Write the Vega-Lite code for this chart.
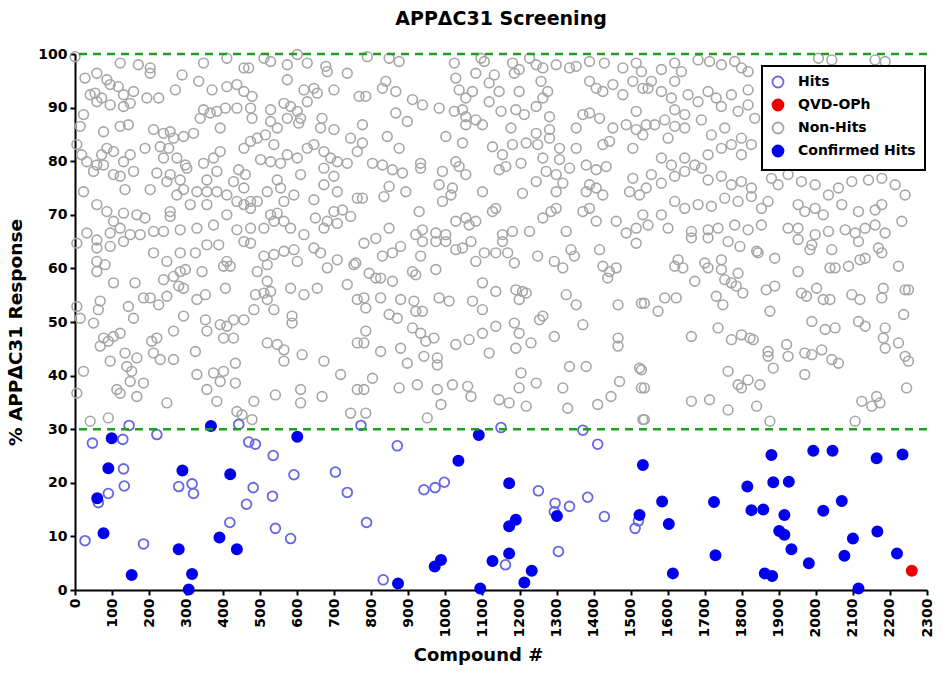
{
"$schema": "https://vega.github.io/schema/vega-lite/v6.json",
"width": 852, "height": 536,
"autosize": {"type": "none"},
"padding": {"left": 75, "top": 54, "right": 23, "bottom": 102},
"background": "white",
"title": {"text": "APPΔC31 Screening", "font": "DejaVu Sans", "fontSize": 19, "fontWeight": "bold", "color": "black", "anchor": "middle", "frame": "group", "offset": 17},
"config": {
  "view": {"stroke": null},
  "axis": {"domainColor": "black", "domainWidth": 2, "tickColor": "black", "tickWidth": 2, "tickSize": 5, "labelFont": "DejaVu Sans", "labelFontWeight": "bold", "labelFontSize": 14, "labelColor": "black", "grid": false, "titleFont": "DejaVu Sans", "titleFontWeight": "bold", "titleColor": "black"},
  "legend": {"strokeColor": "black", "strokeWidth": 2, "fillColor": "white"}
},
"datasets": {
  "nonhits": [
{"x":0,"y":99.5},{"x":122,"y":98.3},{"x":171,"y":98.0},{"x":203,"y":97.4},{"x":203,"y":96.4},{"x":289,"y":96.1},{"x":347,"y":98.3},{"x":410,"y":99.2},{"x":456,"y":97.4},{"x":469,"y":97.4},{"x":510,"y":99.2},{"x":528,"y":98.6},{"x":573,"y":98.0},{"x":600,"y":99.9},{"x":627,"y":98.3},{"x":677,"y":97.7},{"x":681,"y":96.7},{"x":735,"y":96.4},{"x":27,"y":95.5},{"x":59,"y":96.4},{"x":86,"y":95.2},{"x":95,"y":94.3},{"x":117,"y":93.9},{"x":41,"y":92.4},{"x":54,"y":92.7},{"x":72,"y":91.8},{"x":131,"y":92.4},{"x":158,"y":93.0},{"x":194,"y":91.8},{"x":226,"y":91.8},{"x":271,"y":93.3},{"x":334,"y":94.9},{"x":370,"y":93.3},{"x":410,"y":93.9},{"x":437,"y":94.3},{"x":456,"y":93.0},{"x":478,"y":92.1},{"x":573,"y":95.2},{"x":618,"y":93.3},{"x":645,"y":93.6},{"x":654,"y":92.7},{"x":699,"y":93.3},{"x":767,"y":92.1},{"x":23,"y":88.7},{"x":59,"y":91.1},{"x":95,"y":90.5},{"x":131,"y":90.2},{"x":149,"y":90.8},{"x":347,"y":89.6},{"x":365,"y":89.0},{"x":383,"y":89.3},{"x":406,"y":89.9},{"x":338,"y":88.0},{"x":437,"y":89.9},{"x":474,"y":89.9},{"x":478,"y":88.0},{"x":528,"y":89.6},{"x":564,"y":90.8},{"x":582,"y":90.2},{"x":600,"y":89.3},{"x":627,"y":91.1},{"x":609,"y":88.0},{"x":573,"y":88.0},{"x":667,"y":88.0},{"x":528,"y":87.4},{"x":546,"y":86.2},{"x":604,"y":87.1},{"x":663,"y":86.2},{"x":699,"y":85.9},{"x":14,"y":86.5},{"x":122,"y":86.5},{"x":144,"y":86.8},{"x":77,"y":85.5},{"x":212,"y":85.9},{"x":239,"y":85.2},{"x":257,"y":85.5},{"x":266,"y":84.3},{"x":293,"y":84.6},{"x":320,"y":85.2},{"x":392,"y":86.2},{"x":514,"y":84.9},{"x":744,"y":84.3},{"x":492,"y":84.3},{"x":474,"y":83.7},{"x":537,"y":83.1},{"x":456,"y":82.4},{"x":392,"y":81.8},{"x":5,"y":83.1},{"x":18,"y":81.2},{"x":86,"y":82.4},{"x":104,"y":81.8},{"x":72,"y":81.2},{"x":149,"y":81.2},{"x":131,"y":79.9},{"x":189,"y":82.4},{"x":230,"y":82.7},{"x":253,"y":82.4},{"x":275,"y":80.6},{"x":298,"y":79.3},{"x":374,"y":80.6},{"x":347,"y":79.6},{"x":239,"y":80.6},{"x":32,"y":79.9},{"x":59,"y":79.3},{"x":77,"y":79.3},{"x":501,"y":80.3},{"x":528,"y":79.9},{"x":555,"y":79.6},{"x":573,"y":81.2},{"x":600,"y":80.6},{"x":627,"y":82.4},{"x":645,"y":83.1},{"x":672,"y":81.8},{"x":690,"y":80.6},{"x":708,"y":79.9},{"x":735,"y":79.6},{"x":672,"y":78.7},{"x":762,"y":81.8},{"x":50,"y":78.1},{"x":104,"y":77.5},{"x":122,"y":77.2},{"x":158,"y":78.1},{"x":221,"y":77.8},{"x":257,"y":77.5},{"x":302,"y":78.7},{"x":284,"y":76.5},{"x":356,"y":76.5},{"x":383,"y":78.1},{"x":442,"y":78.4},{"x":460,"y":77.5},{"x":428,"y":76.2},{"x":456,"y":75.0},{"x":383,"y":74.3},{"x":356,"y":74.3},{"x":329,"y":74.3},{"x":293,"y":74.7},{"x":275,"y":73.7},{"x":203,"y":74.7},{"x":248,"y":76.2},{"x":135,"y":74.7},{"x":23,"y":74.3},{"x":546,"y":76.5},{"x":555,"y":75.0},{"x":519,"y":74.3},{"x":474,"y":72.5},{"x":410,"y":73.7},{"x":437,"y":72.5},{"x":492,"y":72.5},{"x":591,"y":73.7},{"x":564,"y":72.5},{"x":672,"y":75.6},{"x":708,"y":74.3},{"x":645,"y":72.8},{"x":762,"y":73.1},{"x":699,"y":77.2},{"x":609,"y":77.5},{"x":59,"y":71.9},{"x":86,"y":70.6},{"x":131,"y":70.3},{"x":167,"y":70.0},{"x":189,"y":69.4},{"x":104,"y":68.8},{"x":122,"y":67.5},{"x":257,"y":70.6},{"x":257,"y":69.7},{"x":311,"y":71.9},{"x":356,"y":71.9},{"x":410,"y":70.0},{"x":456,"y":71.9},{"x":474,"y":71.2},{"x":528,"y":70.0},{"x":546,"y":70.3},{"x":564,"y":68.8},{"x":537,"y":68.8},{"x":582,"y":67.5},{"x":510,"y":67.5},{"x":474,"y":67.5},{"x":437,"y":67.2},{"x":374,"y":68.1},{"x":329,"y":67.5},{"x":284,"y":67.2},{"x":239,"y":66.9},{"x":212,"y":66.9},{"x":176,"y":66.3},{"x":149,"y":66.3},{"x":95,"y":66.6},{"x":32,"y":66.6},{"x":59,"y":65.3},{"x":649,"y":69.4},{"x":681,"y":68.8},{"x":699,"y":70.6},{"x":722,"y":70.9},{"x":744,"y":69.7},{"x":672,"y":67.5},{"x":708,"y":68.4},{"x":618,"y":66.3},
{"x":789,"y":99.5},{"x":848,"y":99.2},{"x":875,"y":98.6},{"x":1024,"y":98.3},{"x":1096,"y":99.2},{"x":1105,"y":98.6},{"x":1181,"y":98.3},{"x":1199,"y":97.1},{"x":1227,"y":99.2},{"x":1245,"y":98.0},{"x":1263,"y":97.4},{"x":1299,"y":98.0},{"x":1335,"y":97.4},{"x":1353,"y":97.7},{"x":1389,"y":98.6},{"x":1429,"y":98.3},{"x":1479,"y":97.4},{"x":1515,"y":98.3},{"x":1529,"y":96.7},{"x":1028,"y":95.5},{"x":1082,"y":96.4},{"x":1132,"y":96.1},{"x":1186,"y":96.4},{"x":839,"y":94.9},{"x":830,"y":93.6},{"x":866,"y":93.0},{"x":911,"y":91.5},{"x":938,"y":90.5},{"x":785,"y":92.1},{"x":1037,"y":93.3},{"x":1073,"y":93.0},{"x":1055,"y":91.8},{"x":1118,"y":94.6},{"x":1145,"y":93.0},{"x":1199,"y":93.0},{"x":1258,"y":94.9},{"x":1276,"y":93.0},{"x":1263,"y":91.8},{"x":1389,"y":94.9},{"x":1407,"y":93.6},{"x":1425,"y":93.0},{"x":1452,"y":94.3},{"x":1479,"y":92.4},{"x":1506,"y":94.9},{"x":1533,"y":93.6},{"x":866,"y":89.0},{"x":897,"y":87.4},{"x":983,"y":89.9},{"x":1024,"y":89.3},{"x":1046,"y":89.6},{"x":1055,"y":88.3},{"x":1082,"y":87.7},{"x":1100,"y":86.8},{"x":1055,"y":86.8},{"x":1118,"y":91.1},{"x":1150,"y":89.3},{"x":1190,"y":89.6},{"x":1213,"y":88.7},{"x":1245,"y":90.2},{"x":1281,"y":88.3},{"x":1371,"y":88.7},{"x":1389,"y":89.0},{"x":1416,"y":88.0},{"x":1353,"y":86.2},{"x":1452,"y":86.2},{"x":1488,"y":86.8},{"x":1515,"y":89.3},{"x":1515,"y":85.9},{"x":1533,"y":84.9},{"x":776,"y":86.8},{"x":1177,"y":86.2},{"x":1245,"y":85.2},{"x":1281,"y":85.9},{"x":843,"y":84.6},{"x":875,"y":82.4},{"x":776,"y":83.4},{"x":1001,"y":84.6},{"x":1046,"y":83.4},{"x":1127,"y":82.7},{"x":1154,"y":81.2},{"x":1181,"y":83.1},{"x":1218,"y":83.4},{"x":1249,"y":83.1},{"x":1281,"y":84.3},{"x":1308,"y":82.4},{"x":1353,"y":82.4},{"x":1425,"y":83.1},{"x":1443,"y":83.7},{"x":1506,"y":82.4},{"x":803,"y":79.6},{"x":830,"y":79.3},{"x":857,"y":78.4},{"x":884,"y":77.8},{"x":933,"y":79.6},{"x":933,"y":78.7},{"x":1028,"y":79.9},{"x":1037,"y":79.0},{"x":992,"y":78.1},{"x":1145,"y":78.4},{"x":1163,"y":79.0},{"x":1204,"y":79.6},{"x":1263,"y":80.6},{"x":1308,"y":80.3},{"x":1335,"y":78.7},{"x":1380,"y":79.3},{"x":1407,"y":78.4},{"x":1434,"y":79.0},{"x":776,"y":73.1},{"x":848,"y":75.3},{"x":834,"y":73.4},{"x":893,"y":74.3},{"x":983,"y":75.6},{"x":992,"y":72.5},{"x":1019,"y":75.0},{"x":1015,"y":73.7},{"x":1055,"y":77.5},{"x":1100,"y":74.3},{"x":1208,"y":74.0},{"x":1245,"y":76.2},{"x":1272,"y":78.1},{"x":1299,"y":77.5},{"x":1317,"y":75.9},{"x":1299,"y":74.3},{"x":1380,"y":74.3},{"x":1389,"y":75.6},{"x":1407,"y":75.0},{"x":1425,"y":73.7},{"x":1506,"y":76.8},{"x":1497,"y":74.3},{"x":1524,"y":73.7},{"x":929,"y":70.6},{"x":848,"y":67.5},{"x":920,"y":66.3},{"x":938,"y":67.2},{"x":974,"y":66.6},{"x":1001,"y":66.3},{"x":1028,"y":68.8},{"x":1055,"y":69.4},{"x":1064,"y":68.1},{"x":1082,"y":68.8},{"x":1127,"y":70.6},{"x":1136,"y":71.2},{"x":1154,"y":66.3},{"x":1181,"y":66.9},{"x":1227,"y":66.9},{"x":1263,"y":69.4},{"x":1285,"y":70.6},{"x":1299,"y":71.2},{"x":1326,"y":66.9},{"x":1371,"y":70.6},{"x":1389,"y":71.2},{"x":1407,"y":68.8},{"x":1461,"y":68.8},{"x":1488,"y":66.6},{"x":1515,"y":67.5},{"x":1533,"y":70.0},{"x":812,"y":65.6},
{"x":1583,"y":97.1},{"x":1619,"y":98.3},{"x":1637,"y":96.7},{"x":1682,"y":98.9},{"x":1713,"y":98.6},{"x":1745,"y":98.0},{"x":1781,"y":98.6},{"x":1799,"y":97.4},{"x":1817,"y":96.7},{"x":1556,"y":94.9},{"x":1619,"y":94.9},{"x":2007,"y":99.2},{"x":2043,"y":98.9},{"x":2160,"y":98.9},{"x":2187,"y":98.6},{"x":1547,"y":93.6},{"x":1583,"y":93.0},{"x":1610,"y":91.8},{"x":1655,"y":92.4},{"x":1682,"y":91.1},{"x":1709,"y":93.0},{"x":1731,"y":91.8},{"x":1745,"y":90.2},{"x":1772,"y":92.4},{"x":1817,"y":93.3},{"x":1817,"y":90.5},{"x":1619,"y":89.6},{"x":1646,"y":88.7},{"x":1691,"y":87.7},{"x":1790,"y":89.3},{"x":1835,"y":88.0},{"x":1542,"y":86.8},{"x":1565,"y":86.8},{"x":1592,"y":87.7},{"x":1619,"y":86.5},{"x":1646,"y":86.2},{"x":1601,"y":84.3},{"x":1718,"y":84.9},{"x":1754,"y":86.2},{"x":1772,"y":83.1},{"x":1799,"y":84.3},{"x":1826,"y":83.1},{"x":1646,"y":80.6},{"x":1673,"y":79.3},{"x":1709,"y":81.2},{"x":1745,"y":82.4},{"x":1799,"y":81.2},{"x":1583,"y":80.6},{"x":1610,"y":79.3},{"x":1556,"y":77.5},{"x":1542,"y":75.0},{"x":1583,"y":75.9},{"x":1619,"y":77.2},{"x":1646,"y":78.1},{"x":1691,"y":78.7},{"x":1709,"y":76.5},{"x":1745,"y":77.2},{"x":1772,"y":75.6},{"x":1799,"y":76.2},{"x":1826,"y":75.0},{"x":1880,"y":76.8},{"x":1898,"y":75.6},{"x":1925,"y":77.5},{"x":1961,"y":76.2},{"x":1998,"y":75.6},{"x":2034,"y":73.7},{"x":2061,"y":75.0},{"x":2097,"y":76.2},{"x":2142,"y":76.5},{"x":2178,"y":76.8},{"x":2214,"y":75.6},{"x":2241,"y":73.7},{"x":1619,"y":72.5},{"x":1646,"y":71.2},{"x":1682,"y":71.9},{"x":1718,"y":71.6},{"x":1754,"y":73.1},{"x":1790,"y":72.5},{"x":1826,"y":73.4},{"x":1853,"y":71.2},{"x":1871,"y":72.5},{"x":1952,"y":71.9},{"x":1970,"y":70.6},{"x":1998,"y":71.2},{"x":2020,"y":70.0},{"x":2070,"y":71.9},{"x":2115,"y":70.6},{"x":2160,"y":70.9},{"x":2178,"y":71.9},{"x":2232,"y":68.8},{"x":1583,"y":70.0},{"x":1547,"y":68.1},{"x":1601,"y":67.5},{"x":1664,"y":66.9},{"x":1709,"y":67.2},{"x":1736,"y":67.5},{"x":1781,"y":68.1},{"x":1817,"y":67.2},{"x":1853,"y":68.1},{"x":1925,"y":67.5},{"x":1952,"y":67.5},{"x":1998,"y":66.3},{"x":2034,"y":66.9},{"x":2079,"y":67.2},{"x":2106,"y":66.6},{"x":2133,"y":67.5},{"x":2160,"y":68.1},{"x":2187,"y":66.6},
{"x":5,"y":64.7},{"x":59,"y":63.8},{"x":95,"y":64.1},{"x":131,"y":65.0},{"x":212,"y":62.9},{"x":248,"y":61.3},{"x":284,"y":62.9},{"x":325,"y":62.9},{"x":356,"y":64.4},{"x":388,"y":64.4},{"x":456,"y":65.0},{"x":474,"y":64.7},{"x":510,"y":62.3},{"x":537,"y":62.6},{"x":564,"y":63.2},{"x":591,"y":63.5},{"x":600,"y":61.3},{"x":645,"y":63.8},{"x":663,"y":62.9},{"x":708,"y":61.6},{"x":753,"y":60.7},{"x":681,"y":60.1},{"x":59,"y":61.3},{"x":59,"y":59.4},{"x":81,"y":60.7},{"x":401,"y":60.4},{"x":410,"y":61.3},{"x":419,"y":60.4},{"x":492,"y":59.4},{"x":519,"y":60.7},{"x":104,"y":57.3},{"x":162,"y":57.3},{"x":239,"y":57.9},{"x":266,"y":58.5},{"x":284,"y":59.4},{"x":298,"y":59.8},{"x":343,"y":59.4},{"x":280,"y":56.7},{"x":293,"y":56.3},{"x":406,"y":56.3},{"x":519,"y":57.6},{"x":528,"y":55.7},{"x":582,"y":56.3},{"x":618,"y":55.1},{"x":654,"y":56.3},{"x":735,"y":57.0},{"x":185,"y":54.5},{"x":203,"y":54.5},{"x":226,"y":53.2},{"x":248,"y":54.8},{"x":329,"y":54.2},{"x":352,"y":55.1},{"x":487,"y":55.1},{"x":510,"y":55.4},{"x":519,"y":54.2},{"x":762,"y":54.2},{"x":5,"y":52.9},{"x":14,"y":50.7},{"x":68,"y":53.9},{"x":63,"y":52.3},{"x":144,"y":52.9},{"x":158,"y":50.7},{"x":50,"y":49.8},{"x":293,"y":51.1},{"x":352,"y":50.4},{"x":356,"y":48.3},{"x":392,"y":49.5},{"x":410,"y":49.2},{"x":428,"y":50.4},{"x":456,"y":50.4},{"x":483,"y":52.3},{"x":537,"y":52.3},{"x":586,"y":51.1},{"x":586,"y":49.8},{"x":266,"y":48.3},{"x":401,"y":47.0},{"x":428,"y":47.0},{"x":104,"y":47.3},{"x":122,"y":47.9},{"x":77,"y":47.0},{"x":221,"y":47.0},{"x":207,"y":46.4},{"x":68,"y":45.5},{"x":90,"y":46.4},{"x":135,"y":44.2},{"x":167,"y":43.3},{"x":95,"y":42.7},{"x":140,"y":41.7},{"x":212,"y":44.2},{"x":230,"y":43.0},{"x":266,"y":43.0},{"x":325,"y":44.5},{"x":519,"y":46.1},{"x":546,"y":45.8},{"x":564,"y":44.8},{"x":564,"y":42.7},{"x":613,"y":43.9},{"x":672,"y":42.7},{"x":762,"y":46.1},{"x":23,"y":40.8},{"x":153,"y":40.8},{"x":149,"y":38.9},{"x":329,"y":40.2},{"x":374,"y":40.5},{"x":401,"y":40.8},{"x":392,"y":38.9},{"x":433,"y":42.3},{"x":433,"y":38.6},{"x":717,"y":40.2},{"x":185,"y":38.6},{"x":5,"y":36.7},{"x":113,"y":37.4},{"x":122,"y":36.7},{"x":167,"y":36.1},{"x":356,"y":37.4},{"x":383,"y":35.2},{"x":483,"y":35.2},{"x":541,"y":36.4},{"x":609,"y":37.4},{"x":609,"y":34.9},{"x":667,"y":36.1},{"x":744,"y":33.0},{"x":762,"y":37.4},{"x":248,"y":34.9},{"x":41,"y":31.5},{"x":90,"y":32.1},{"x":437,"y":33.3},{"x":451,"y":32.7},{"x":478,"y":31.8},
{"x":780,"y":64.7},{"x":830,"y":62.3},{"x":857,"y":62.9},{"x":879,"y":64.1},{"x":933,"y":62.3},{"x":938,"y":65.0},{"x":974,"y":65.0},{"x":1001,"y":65.0},{"x":1028,"y":63.5},{"x":1046,"y":63.8},{"x":1069,"y":65.0},{"x":1082,"y":61.3},{"x":1105,"y":62.9},{"x":1136,"y":62.9},{"x":1154,"y":65.0},{"x":1168,"y":62.9},{"x":1186,"y":61.0},{"x":1249,"y":62.3},{"x":1294,"y":61.3},{"x":1317,"y":60.1},{"x":1348,"y":62.3},{"x":1339,"y":63.5},{"x":1416,"y":63.5},{"x":1425,"y":60.4},{"x":1443,"y":59.4},{"x":1461,"y":60.1},{"x":1515,"y":64.7},{"x":758,"y":61.0},{"x":794,"y":59.1},{"x":812,"y":58.2},{"x":825,"y":58.2},{"x":857,"y":57.6},{"x":911,"y":59.4},{"x":920,"y":58.8},{"x":974,"y":59.8},{"x":1100,"y":57.3},{"x":1136,"y":55.7},{"x":1190,"y":56.0},{"x":1208,"y":55.7},{"x":1199,"y":54.2},{"x":1218,"y":55.4},{"x":1326,"y":55.1},{"x":1353,"y":53.2},{"x":1466,"y":53.2},{"x":1529,"y":53.5},{"x":1438,"y":58.2},{"x":780,"y":54.5},{"x":825,"y":54.5},{"x":879,"y":54.2},{"x":915,"y":53.9},{"x":983,"y":54.5},{"x":1010,"y":53.9},{"x":1073,"y":53.9},{"x":1100,"y":52.3},{"x":920,"y":52.0},{"x":938,"y":52.0},{"x":785,"y":52.6},{"x":848,"y":51.4},{"x":870,"y":50.7},{"x":911,"y":48.9},{"x":933,"y":47.9},{"x":785,"y":48.3},{"x":947,"y":46.4},{"x":969,"y":47.0},{"x":1028,"y":45.8},{"x":1064,"y":46.7},{"x":1100,"y":47.9},{"x":1136,"y":49.2},{"x":1186,"y":49.8},{"x":1199,"y":47.9},{"x":1231,"y":46.1},{"x":1263,"y":51.1},{"x":1254,"y":50.4},{"x":1294,"y":47.3},{"x":1371,"y":49.5},{"x":1466,"y":47.0},{"x":1466,"y":45.5},{"x":780,"y":46.1},{"x":825,"y":44.5},{"x":879,"y":45.1},{"x":942,"y":43.6},{"x":978,"y":43.3},{"x":978,"y":42.0},{"x":1118,"y":44.2},{"x":1190,"y":45.1},{"x":897,"y":42.3},{"x":1335,"y":41.7},{"x":1380,"y":41.7},{"x":1524,"y":41.4},{"x":803,"y":39.5},{"x":780,"y":37.4},{"x":875,"y":37.7},{"x":924,"y":38.3},{"x":978,"y":37.4},{"x":1019,"y":38.3},{"x":1060,"y":38.0},{"x":1069,"y":36.1},{"x":988,"y":34.6},{"x":1145,"y":35.5},{"x":1172,"y":34.9},{"x":1204,"y":40.5},{"x":1199,"y":37.7},{"x":1245,"y":38.6},{"x":1218,"y":34.3},{"x":1317,"y":37.7},{"x":1330,"y":33.9},{"x":1411,"y":34.6},{"x":1447,"y":36.1},{"x":1470,"y":38.9},{"x":1529,"y":37.7},{"x":785,"y":33.0},{"x":951,"y":32.1},{"x":1533,"y":31.8},
{"x":1664,"y":65.7},{"x":1709,"y":65.7},{"x":1763,"y":65.0},{"x":1795,"y":64.1},{"x":1840,"y":63.2},{"x":1844,"y":62.9},{"x":1889,"y":61.9},{"x":1952,"y":65.4},{"x":1989,"y":64.4},{"x":1984,"y":63.5},{"x":2043,"y":63.5},{"x":1628,"y":61.6},{"x":1619,"y":60.4},{"x":1641,"y":60.1},{"x":1700,"y":61.0},{"x":1709,"y":60.1},{"x":1745,"y":61.6},{"x":1745,"y":59.8},{"x":1790,"y":59.1},{"x":1952,"y":59.4},{"x":2038,"y":60.1},{"x":2052,"y":60.1},{"x":2088,"y":60.4},{"x":2119,"y":61.6},{"x":2133,"y":61.9},{"x":2169,"y":63.8},{"x":2178,"y":62.9},{"x":2223,"y":60.4},{"x":2115,"y":65.0},{"x":1673,"y":57.6},{"x":1754,"y":57.9},{"x":1772,"y":57.3},{"x":1785,"y":56.7},{"x":1803,"y":55.4},{"x":1866,"y":56.0},{"x":1889,"y":56.7},{"x":1961,"y":55.4},{"x":1975,"y":54.8},{"x":2002,"y":56.3},{"x":2020,"y":54.2},{"x":2038,"y":54.2},{"x":2097,"y":55.1},{"x":2119,"y":54.2},{"x":2182,"y":56.3},{"x":2178,"y":54.5},{"x":2241,"y":56.0},{"x":2250,"y":56.0},{"x":1537,"y":53.5},{"x":1592,"y":54.5},{"x":1623,"y":54.5},{"x":1731,"y":54.8},{"x":1749,"y":53.2},{"x":1876,"y":52.0},{"x":1574,"y":52.0},{"x":1664,"y":47.3},{"x":1736,"y":48.9},{"x":1772,"y":46.7},{"x":1799,"y":47.6},{"x":1822,"y":47.0},{"x":1831,"y":46.7},{"x":1989,"y":50.1},{"x":2025,"y":48.6},{"x":2052,"y":48.9},{"x":2115,"y":50.1},{"x":2133,"y":49.2},{"x":2187,"y":48.9},{"x":2237,"y":51.4},{"x":2182,"y":47.0},{"x":2187,"y":45.1},{"x":2223,"y":46.1},{"x":1871,"y":44.5},{"x":1871,"y":43.6},{"x":1921,"y":45.8},{"x":1925,"y":43.6},{"x":1970,"y":44.2},{"x":1989,"y":43.9},{"x":2016,"y":44.8},{"x":2043,"y":43.0},{"x":2061,"y":42.3},{"x":2241,"y":43.6},{"x":2250,"y":42.7},{"x":1529,"y":41.1},{"x":1537,"y":37.7},{"x":1763,"y":40.8},{"x":1790,"y":38.3},{"x":1799,"y":37.7},{"x":1817,"y":39.2},{"x":1849,"y":38.3},{"x":1885,"y":41.4},{"x":1970,"y":40.2},{"x":1664,"y":35.2},{"x":1713,"y":35.5},{"x":1763,"y":33.6},{"x":1840,"y":34.3},{"x":1876,"y":31.5},{"x":2106,"y":31.5},{"x":2124,"y":35.2},{"x":2151,"y":34.3},{"x":2164,"y":36.1},{"x":2173,"y":34.9},{"x":2245,"y":37.7},{"x":1537,"y":31.8}
  ],
  "hits": [
{"x":27,"y":9.2},{"x":47,"y":27.4},{"x":63,"y":16.3},{"x":90,"y":18.0},{"x":129,"y":28.1},{"x":131,"y":22.6},{"x":133,"y":19.4},{"x":146,"y":30.7},{"x":185,"y":8.6},{"x":221,"y":29.0},{"x":280,"y":19.3},{"x":316,"y":19.8},{"x":320,"y":18.0},{"x":418,"y":12.6},{"x":442,"y":30.9},{"x":463,"y":16.0},{"x":469,"y":27.6},{"x":487,"y":27.2},{"x":481,"y":19.1},{"x":535,"y":25.1},{"x":533,"y":17.5},{"x":541,"y":11.5},{"x":582,"y":9.6},{"x":591,"y":21.5},{"x":703,"y":22.0},{"x":735,"y":18.2},{"x":787,"y":12.6},{"x":772,"y":30.7},{"x":832,"y":1.9},{"x":870,"y":26.9},{"x":942,"y":18.7},{"x":972,"y":19.1},{"x":997,"y":20.1},{"x":1150,"y":30.3},{"x":1162,"y":4.7},{"x":1251,"y":18.5},{"x":1296,"y":16.2},{"x":1294,"y":14.6},{"x":1335,"y":15.6},{"x":1305,"y":7.2},{"x":1371,"y":29.8},{"x":1411,"y":27.2},{"x":1384,"y":17.3},{"x":1429,"y":13.7},{"x":1521,"y":12.9},{"x":1512,"y":11.5}
  ],
  "confirmed": [
{"x":99,"y":28.3},{"x":90,"y":22.7},{"x":60,"y":17.1},{"x":77,"y":10.6},{"x":153,"y":2.8},{"x":280,"y":7.6},{"x":290,"y":22.3},{"x":316,"y":3.0},{"x":307,"y":0.1},{"x":367,"y":30.6},{"x":390,"y":9.8},{"x":419,"y":21.6},{"x":437,"y":7.6},{"x":600,"y":28.6},{"x":872,"y":1.2},{"x":971,"y":4.4},{"x":988,"y":5.6},{"x":1035,"y":24.1},{"x":1090,"y":28.9},{"x":1094,"y":0.3},{"x":1127,"y":5.4},{"x":1172,"y":19.9},{"x":1172,"y":11.9},{"x":1190,"y":13.1},{"x":1172,"y":6.8},{"x":1213,"y":1.4},{"x":1233,"y":3.6},{"x":1301,"y":13.8},{"x":1524,"y":14.0},{"x":1533,"y":23.3},{"x":1585,"y":16.5},{"x":1603,"y":12.3},{"x":1614,"y":3.1},{"x":1725,"y":16.4},{"x":1729,"y":6.5},{"x":1815,"y":19.3},{"x":1826,"y":14.9},{"x":1858,"y":15.0},{"x":1880,"y":25.2},{"x":1885,"y":20.1},{"x":1927,"y":20.2},{"x":1915,"y":14.0},{"x":1901,"y":11.0},{"x":1915,"y":10.3},{"x":1934,"y":7.6},{"x":1862,"y":3.1},{"x":1882,"y":2.6},{"x":1981,"y":5.0},{"x":1993,"y":26.0},{"x":2045,"y":26.0},{"x":2020,"y":14.8},{"x":2070,"y":16.6},{"x":2100,"y":9.6},{"x":2077,"y":6.4},{"x":2115,"y":0.3},{"x":2164,"y":24.6},{"x":2166,"y":10.9},{"x":2234,"y":25.3},{"x":2219,"y":6.8}
  ],
  "qvd": [{"x":2259,"y":3.6}]
},
"encoding": {
  "x": {"field": "x", "type": "quantitative", "title": "Compound #", "scale": {"domain": [0, 2300], "nice": false, "zero": false},
        "axis": {"values": [0,100,200,300,400,500,600,700,800,900,1000,1100,1200,1300,1400,1500,1600,1700,1800,1900,2000,2100,2200,2300], "format": "d", "labelAngle": 270, "labelPadding": 3, "titleFontSize": 18, "titlePadding": 10, "titleX": 403}},
  "y": {"field": "y", "type": "quantitative", "title": "% APPΔC31 Response", "scale": {"domain": [0, 100], "nice": false},
        "axis": {"values": [0,10,20,30,40,50,60,70,80,90,100], "format": "d", "labelPadding": 3, "titleFontSize": 18.5, "titlePadding": 12, "titleY": 278}}
},
"layer": [
  {"data": {"name": "nonhits"}, "mark": {"type": "point", "shape": "circle", "size": 95, "strokeWidth": 1.6, "opacity": 1, "clip": false},
   "encoding": {
     "fill": {"datum": "Non-Hits", "type": "nominal", "scale": {"domain": ["Hits", "QVD-OPh", "Non-Hits", "Confirmed Hits"], "range": ["transparent", "#ee0000", "transparent", "#0000ee"]},
              "legend": {"title": null, "orient": "none", "legendX": 687, "legendY": 12, "symbolType": "circle", "symbolSize": 120, "symbolStrokeWidth": 1.8, "labelFont": "DejaVu Sans", "labelFontSize": 14, "labelFontWeight": "bold", "labelColor": "black", "padding": 9, "rowPadding": 3, "labelOffset": 13, "strokeColor": "black", "fillColor": "white"}},
     "stroke": {"datum": "Non-Hits", "type": "nominal", "scale": {"domain": ["Hits", "QVD-OPh", "Non-Hits", "Confirmed Hits"], "range": ["#6767e6", "#ee0000", "#a6a6a6", "#0000ee"]},
              "legend": {"title": null, "orient": "none", "legendX": 687, "legendY": 12, "symbolType": "circle", "symbolSize": 120, "symbolStrokeWidth": 1.8, "labelFont": "DejaVu Sans", "labelFontSize": 14, "labelFontWeight": "bold", "labelColor": "black", "padding": 9, "rowPadding": 3, "labelOffset": 13, "strokeColor": "black", "fillColor": "white"}}
   }},
  {"data": {"name": "hits"}, "mark": {"type": "point", "shape": "circle", "size": 95, "strokeWidth": 1.8, "opacity": 1, "clip": false},
   "encoding": {"fill": {"datum": "Hits", "type": "nominal"}, "stroke": {"datum": "Hits", "type": "nominal"}}},
  {"data": {"name": "confirmed"}, "mark": {"type": "point", "shape": "circle", "size": 110, "strokeWidth": 1.5, "opacity": 1, "clip": false},
   "encoding": {"fill": {"datum": "Confirmed Hits", "type": "nominal"}, "stroke": {"datum": "Confirmed Hits", "type": "nominal"}}},
  {"data": {"name": "qvd"}, "mark": {"type": "point", "shape": "circle", "size": 110, "strokeWidth": 1.5, "opacity": 1, "clip": false},
   "encoding": {"fill": {"datum": "QVD-OPh", "type": "nominal"}, "stroke": {"datum": "QVD-OPh", "type": "nominal"}}},
  {"data": {"values": [{"v": 30}, {"v": 100}]}, "mark": {"type": "rule", "color": "#1f9e1f", "strokeWidth": 2.5, "strokeDash": [8, 6]},
   "encoding": {"x": null, "y": {"field": "v", "type": "quantitative"}}}
]
}
